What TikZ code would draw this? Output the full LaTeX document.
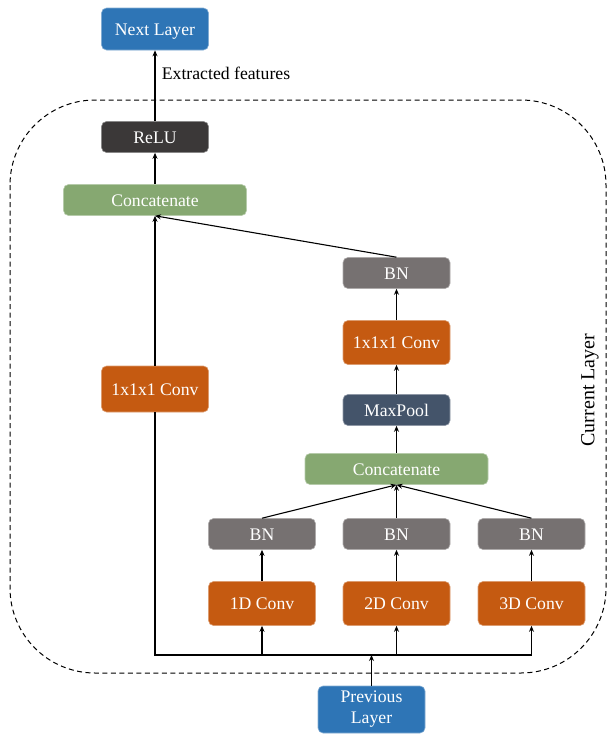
\documentclass[tikz,border=0pt]{standalone}
\usepackage{fontspec}
\setmainfont{Liberation Serif}
\usetikzlibrary{positioning,arrows.meta}

\definecolor{layerblue}{RGB}{46,117,182}
\definecolor{convorange}{RGB}{197,90,17}
\definecolor{catgreen}{RGB}{134,168,113}
\definecolor{bngray}{RGB}{118,113,113}
\definecolor{reludark}{RGB}{59,56,56}
\definecolor{poolslate}{RGB}{68,84,106}

\begin{document}
\begin{tikzpicture}[x=1pt, y=-1pt,
>={Stealth[length=6pt,width=5pt]},
every path/.style={line width=1.1pt},
block/.style={rectangle, rounded corners=5pt, draw=#1!60!white, fill=#1, line width=0.6pt,
  text=white, align=center, inner sep=0pt, minimum width=107pt,
  text height=12pt, text depth=0pt,
  font=\fontsize{17.7}{21}\selectfont},
blocklayer/.style={block=layerblue, minimum height=44pt},
blockconv/.style={block=convorange, minimum height=44pt},
blockbn/.style={block=bngray, minimum height=31pt},
blockcat/.style={block=catgreen, minimum width=183pt, minimum height=31pt},
blockrelu/.style={block=reludark, minimum height=31pt},
blockpool/.style={block=poolslate, minimum height=31pt},
]
    \useasboundingbox (0,0) rectangle (607,734);

    % Cadre de la couche courante
    \draw [dashed, dash pattern=on 5pt off 3.5pt, line width=1pt, rounded corners=85pt] (10,100) rectangle (606,673);
    \node [rotate=90, font=\fontsize{20}{22}\selectfont] (current) at (590,390) {Current Layer};

    % Définition des blocs
    \node [blocklayer, minimum height=47pt, text height=, text depth=] (prev) at (371.5,709.5) {Previous\\Layer};
    \node [blockconv] (conv2) at (396.5,603.5) {2D Conv};
    \node [blockconv, left of=conv2, node distance=134.5pt] (conv1) {1D Conv};
    \node [blockconv, right of=conv2, node distance=135pt] (conv3) {3D Conv};
    \node [blockbn, above of=conv1, node distance=69.5pt] (bn1) {BN};
    \node [blockbn, above of=conv2, node distance=69.5pt] (bn2) {BN};
    \node [blockbn, above of=conv3, node distance=69.5pt] (bn3) {BN};
    \node [blockcat, above of=bn2, node distance=65pt] (cattwo) {Concatenate};
    \node [blockpool, above of=cattwo, node distance=59pt] (pool) {MaxPool};
    \node [blockconv, above of=pool, node distance=67.5pt] (convright) {1x1x1 Conv};
    \node [blockbn, above of=convright, node distance=69.5pt] (bntop) {BN};
    \node [blockconv, minimum height=46pt] (convleft) at (155,389) {1x1x1 Conv};
    \node [blockcat] (catone) at (155,200) {Concatenate};
    \node [blockrelu, above of=catone, node distance=63pt] (relu) {ReLU};
    \node [blocklayer, minimum height=42pt, above of=relu, node distance=108pt] (next) {Next Layer};
    \coordinate (bus) at (prev.north |- 0,655);

    % Définition des liens
    \draw (convleft.south) -- (convleft.south |- bus) -- (conv3.south |- bus);
    \draw [->] (prev) -- (bus);
    \foreach \c/\b in {conv1/bn1, conv2/bn2, conv3/bn3} {
        \draw [->] (\c.south |- bus) -- (\c);
        \draw [->] (\c) -- (\b);
        \draw [->] (\b.north) -- (cattwo.south);
    }
    \draw [->] (cattwo) -- (pool);
    \draw [->] (pool) -- (convright);
    \draw [->] (convright) -- (bntop);
    \draw [->] (bntop.north) -- (catone.south);
    \draw [->] (convleft) -- (catone);
    \draw [->] (catone) -- (relu);
    \draw [->] (relu) -- node[pos=0.68, right=3pt, font=\fontsize{17.7}{19}\selectfont] (feat) {Extracted features} (next);
\end{tikzpicture}
\end{document}
